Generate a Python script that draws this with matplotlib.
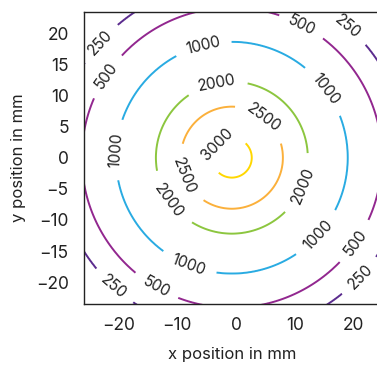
import numpy as np
import matplotlib
matplotlib.use("Agg")
from matplotlib import pyplot as plt

plt.rcParams['font.family'] = ['Inter', 'DejaVu Sans']

# contour levels and their radius (mm, read along y) around the beam centre
levels = [250, 500, 1000, 2000, 2500, 3000]
radii = [28.1, 24.1, 18.6, 12.2, 8.2, 3.2]
colors = ['#5b2c8e', '#92278f', '#29abe2', '#8cc63f', '#fbb03b', '#ffd700']
peak = 3250          # value in the middle
edge = (40.0, 0.0)   # radius, value far outside
centre = (-0.7, 0.0)
x_stretch = 1.057    # circles look round on screen, x scale is a bit smaller

# label spots
label_spots = [(-23.1, 18.5), (19.0, 21.0), (-20.9, -20.9), (21.1, -19.1),
               (-22.2, 13.3), (11.2, 21.3), (-13.8, -21.2), (20.5, -13.7),
               (-5.6, 18.1), (15.1, 10.9), (-20.5, 1.3), (-8.1, -17.5), (14.3, -12.7),
               (-3.1, 11.4), (11.0, -4.3), (-11.2, -6.8),
               (4.4, 6.1), (-9.3, -3.1),
               (-2.7, 1.8)]

# radial profile from the read radii
r_pts = [0.0] + radii[::-1] + [edge[0]]
v_pts = [peak] + levels[::-1] + [edge[1]]

x = np.linspace(-32, 32, 641)
y = np.linspace(-32, 32, 641)
X, Y = np.meshgrid(x, y)
R = np.sqrt(((X - centre[0]) / x_stretch) ** 2 + (Y - centre[1]) ** 2)
Z = np.interp(R, r_pts, v_pts)

fig = plt.figure(figsize=(3.77, 3.65), dpi=100)
ax = fig.add_axes([84 / 377, 61 / 365, 296 / 377, 292.3 / 365])

cs = ax.contour(X, Y, Z, levels=levels, colors=colors, linewidths=1.4)
ax.clabel(cs, fmt='%d', fontsize=11, inline=True, inline_spacing=5,
          manual=label_spots, colors='#222222')

ax.set_xlim(-25.8, 24.45)
ax.set_ylim(-23.5, 23.45)
ax.set_xticks([-20, -10, 0, 10, 20])
ax.set_yticks([-20, -15, -10, -5, 0, 5, 10, 15, 20])
ax.tick_params(axis='both', length=0, labelsize=12.5, labelcolor='#222222')
ax.tick_params(axis='x', pad=9)
ax.tick_params(axis='y', pad=11)

for side in ['top', 'left', 'bottom']:
    ax.spines[side].set_color('#222222')
    ax.spines[side].set_linewidth(1.0)
ax.spines['right'].set_visible(False)

ax.set_xlabel('x position in mm', fontsize=12, color='#222222', labelpad=10)
ax.set_ylabel('y position in mm', fontsize=12, color='#222222', labelpad=7)

fig.savefig('out.png', dpi=100)
